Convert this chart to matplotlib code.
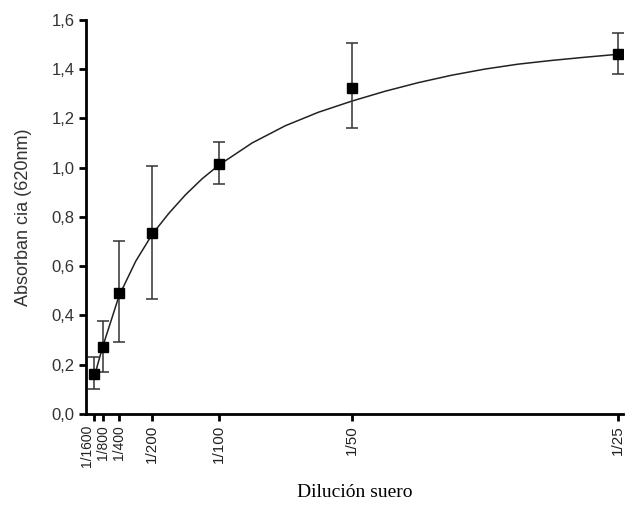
import matplotlib
matplotlib.use("Agg")
import matplotlib.pyplot as plt

# dilutions (as fraction of serum) and tick labels
dilution_labels = ["1/1600", "1/800", "1/400", "1/200", "1/100", "1/50", "1/25"]
dilutions = [1/1600, 1/800, 1/400, 1/200, 1/100, 1/50, 1/25]

# mean absorbance and error bar ends
absorbance = [0.163, 0.27, 0.49, 0.735, 1.015, 1.325, 1.46]
err_low = [0.10, 0.17, 0.29, 0.465, 0.935, 1.16, 1.38]
err_high = [0.23, 0.375, 0.70, 1.005, 1.105, 1.505, 1.545]

# fitted curve
curve_x = [0.000625, 0.00125, 0.0025, 0.00375, 0.005, 0.00625, 0.0075, 0.00875,
           0.01, 0.0125, 0.015, 0.0175, 0.02, 0.0225, 0.025, 0.0275, 0.03,
           0.0325, 0.035, 0.0375, 0.04]
curve_y = [0.15, 0.27, 0.48, 0.62, 0.73, 0.815, 0.89, 0.955,
           1.01, 1.10, 1.17, 1.225, 1.27, 1.31, 1.345, 1.375, 1.40,
           1.42, 1.435, 1.448, 1.46]

yticks = [0.0, 0.2, 0.4, 0.6, 0.8, 1.0, 1.2, 1.4, 1.6]

fig = plt.figure(figsize=(6.41, 5.09), dpi=100)
ax = fig.add_axes([0.134, 0.187, 0.838, 0.774])

ax.plot(curve_x, curve_y, color="#222222", lw=1.1, zorder=2)

yerr = [[a - l for a, l in zip(absorbance, err_low)],
        [h - a for a, h in zip(absorbance, err_high)]]
ax.errorbar(dilutions, absorbance, yerr=yerr, fmt="s", color="black",
            ecolor="#333333", elinewidth=1.1, capsize=4, capthick=1.1,
            markersize=7, zorder=3)

ax.set_xlim(0, 0.0404)
ax.set_ylim(0, 1.6)

ax.set_yticks(yticks)
ax.set_yticklabels([f"{v:.1f}".replace(".", ",") for v in yticks],
                   family="Liberation Sans", fontsize=12, color="#333333")
ax.set_xticks(dilutions)
ax.set_xticklabels(dilution_labels, rotation=90, family="Liberation Sans",
                   fontsize=11, color="#222222")

# the three first ticks sit very close together
labels = ax.get_xticklabels()
for lab in labels[:3]:
    lab.set_fontsize(10)
labels[0].set_horizontalalignment("right")

for side in ["top", "right"]:
    ax.spines[side].set_visible(False)
for side in ["left", "bottom"]:
    ax.spines[side].set_linewidth(2)
ax.tick_params(direction="out", length=5, width=2, pad=3)

ax.set_ylabel("Absorban cia (620nm)", family="Liberation Sans", fontsize=13,
              color="#333333", labelpad=14)
ax.set_xlabel("Dilución suero", family="Liberation Serif", fontsize=14,
              labelpad=12)

fig.savefig("out.png", dpi=100)
